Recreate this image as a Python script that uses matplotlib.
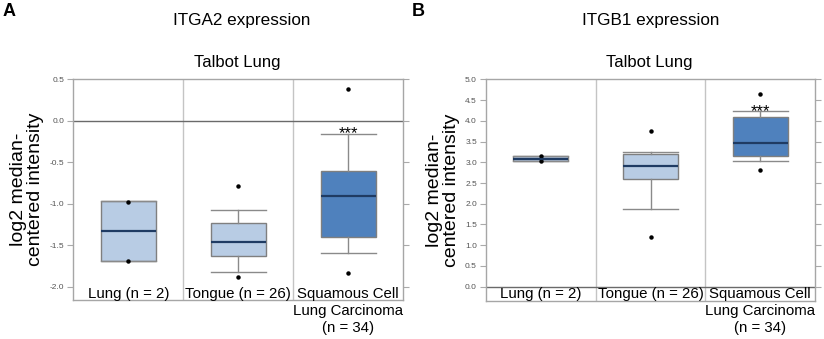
import matplotlib
matplotlib.use("Agg")
import matplotlib.pyplot as plt
from matplotlib.transforms import blended_transform_factory

plt.rcParams['font.family'] = ['Liberation Sans', 'DejaVu Sans']

categories = ["Lung (n = 2)", "Tongue (n = 26)", "Squamous Cell\nLung Carcinoma\n(n = 34)"]

# Panel A: ITGA2
a_q1 = [-1.69, -1.63, -1.40]
a_med = [-1.33, -1.46, -0.91]
a_q3 = [-0.97, -1.23, -0.61]
a_whislo = [-1.69, -1.82, -1.59]
a_whishi = [-0.97, -1.07, -0.16]
a_points = [[-0.98, -1.69], [-0.79, -1.88], [0.38, -1.83]]
a_yticks = [0.5, 0.0, -0.5, -1.0, -1.5, -2.0]

# Panel B: ITGB1
b_q1 = [3.04, 2.60, 3.16]
b_med = [3.09, 2.91, 3.47]
b_q3 = [3.14, 3.19, 4.10]
b_whislo = [3.04, 1.87, 3.04]
b_whishi = [3.14, 3.24, 4.23]
b_points = [[3.14, 3.03], [3.76, 1.19], [4.65, 2.82]]
b_yticks = [0.0, 0.5, 1.0, 1.5, 2.0, 2.5, 3.0, 3.5, 4.0, 4.5, 5.0]

box_colors = ["#b8cce4", "#b8cce4", "#4f81bd"]

W, H = 824, 339
fig = plt.figure(figsize=(W / 100, H / 100), dpi=100)


def px_axes(x0, x1, y0, y1):
    return fig.add_axes([x0 / W, 1 - y1 / H, (x1 - x0) / W, (y1 - y0) / H])


def draw_panel(ax, q1, med, q3, wlo, whi, pts, yticks, ylim, label_y, star_idx):
    stats = []
    for i in range(len(categories)):
        stats.append(dict(q1=q1[i], med=med[i], q3=q3[i], whislo=wlo[i], whishi=whi[i],
                          fliers=pts[i], label=""))
    bp = ax.bxp(stats, positions=range(len(categories)), widths=0.5, patch_artist=True,
                showfliers=True,
                boxprops=dict(edgecolor="#7f7f7f", linewidth=1.0),
                medianprops=dict(color="#1f3b63", linewidth=1.6),
                whiskerprops=dict(color="#8a8a8a", linewidth=1.0),
                capprops=dict(color="#8a8a8a", linewidth=1.0),
                capwidths=0.5,
                flierprops=dict(marker="o", markersize=2.2, markerfacecolor="black",
                                markeredgecolor="black"))
    for patch, c in zip(bp["boxes"], box_colors):
        patch.set_facecolor(c)
    ax.set_xlim(-0.5, len(categories) - 0.5)
    ax.set_ylim(*ylim)
    ax.axhline(0, color="#6a6a6a", linewidth=1.0, zorder=1)
    for xv in [0.5, 1.5]:
        ax.axvline(xv, color="#c4c4c4", linewidth=1.0, zorder=0)
    ax.set_yticks(yticks)
    ax.set_yticklabels([f"{v:.1f}" for v in yticks])
    ax.tick_params(axis="y", labelsize=6, labelcolor="#555555", color="#aaaaaa",
                   length=4.5, width=0.8, right=True, pad=2)
    ax.set_xticks([])
    for s in ax.spines.values():
        s.set_color("#a6a6a6")
        s.set_linewidth(1.0)
    ax.set_ylabel("log2 median-\ncentered intensity", fontsize=14, labelpad=4, linespacing=1.0)
    tr = blended_transform_factory(ax.transData, ax.transData)
    for i, lab in enumerate(categories):
        ax.text(i, label_y, lab, ha="center", va="top", fontsize=10.8, linespacing=1.3,
                transform=tr, clip_on=False)
    ax.annotate("***", xy=(star_idx, whi[star_idx]), xytext=(0, -3.2), textcoords="offset points",
                ha="center", va="baseline", fontsize=12)


axA = px_axes(73.3, 403, 79.3, 300)
draw_panel(axA, a_q1, a_med, a_q3, a_whislo, a_whishi, a_points, a_yticks,
           (-2.0 - 13.3 / 83, 0.5), -2.0, 2)
axB = px_axes(486, 815, 79.3, 300.5)
draw_panel(axB, b_q1, b_med, b_q3, b_whislo, b_whishi, b_points, b_yticks,
           (0.0 - 13.8 / 41.5, 5.0), 0.0, 2)

fig.text(9 / W, 1 - 12 / H, "A", fontsize=13, fontweight="bold", ha="center", va="center")
fig.text(418 / W, 1 - 12 / H, "B", fontsize=13, fontweight="bold", ha="center", va="center")
fig.text(242 / W, 1 - 21 / H, "ITGA2 expression", fontsize=12.3, ha="center", va="center")
fig.text(651 / W, 1 - 21 / H, "ITGB1 expression", fontsize=12.3, ha="center", va="center")
fig.text(237 / W, 1 - 63 / H, "Talbot Lung", fontsize=12, ha="center", va="center")
fig.text(649 / W, 1 - 63 / H, "Talbot Lung", fontsize=12, ha="center", va="center")

fig.savefig("out.png", dpi=100)
